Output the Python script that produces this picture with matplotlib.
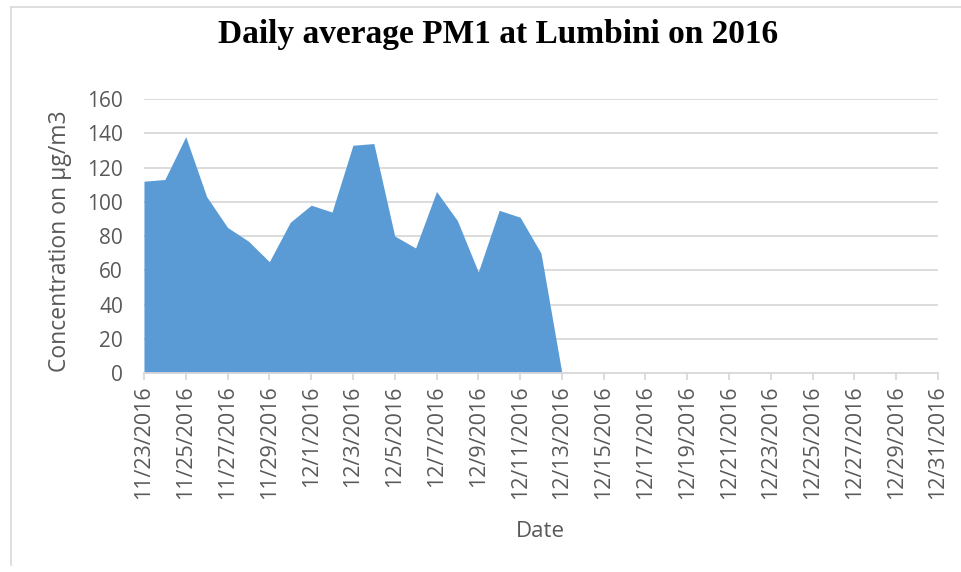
import datetime as dt
import matplotlib.pyplot as plt
from matplotlib.lines import Line2D

# daily average PM1 (µg/m3), 11/23/2016 .. 12/13/2016
start_date = dt.date(2016, 11, 23)
end_date = dt.date(2016, 12, 31)
pm1_values = [112, 113, 138, 103, 85, 77, 65, 88, 98, 94, 133, 134,
              80, 73, 106, 89, 59, 95, 91, 70, 0]

BLUE = "#5B9BD5"
GRID = "#D9D9D9"
TEXT = "#595959"


def date_label(d):
    return f"{d.month}/{d.day}/{d.year}"


def main():
    fig = plt.figure(figsize=(9.61, 5.72), dpi=100)
    ax = fig.add_axes([0.1498, 0.3479, 0.8263, 0.4790])

    days = list(range(len(pm1_values)))
    ax.fill_between(days, pm1_values, 0, color=BLUE, linewidth=0)

    n_days = (end_date - start_date).days
    tick_days = list(range(0, n_days + 1, 2))
    tick_labels = [date_label(start_date + dt.timedelta(days=d)) for d in tick_days]

    ax.set_xlim(0, n_days)
    ax.set_ylim(0, 160)
    ax.set_yticks(range(0, 161, 20))
    ax.set_xticks(tick_days)
    ax.set_xticklabels(tick_labels, rotation=90, ha="center", va="top")

    ax.grid(axis="y", color=GRID, linewidth=1.3)
    ax.set_axisbelow(True)
    for side in ["top", "right", "left"]:
        ax.spines[side].set_visible(False)
    ax.spines["bottom"].set_color(GRID)
    ax.spines["bottom"].set_linewidth(1.3)
    ax.tick_params(axis="y", length=0, pad=15, labelsize=15, labelcolor=TEXT)
    ax.tick_params(axis="x", length=5, color=GRID, width=1.3, pad=4,
                   labelsize=15.5, labelcolor=TEXT)
    for lbl in ax.get_xticklabels() + ax.get_yticklabels():
        lbl.set_family("Open Sans")

    ax.set_ylabel("Concentration on µg/m3", fontsize=16.5, color=TEXT,
                  family="Open Sans")
    ax.yaxis.set_label_coords(-0.09, 0.48)
    fig.text(0.562, 0.07, "Date", fontsize=16, color=TEXT, family="Open Sans",
             ha="center", va="center")
    fig.text(0.518, 0.94, "Daily average PM1 at Lumbini on 2016", fontsize=24,
             fontweight="bold", family="Liberation Serif", ha="center", va="center")

    # outer chart border (left and top only visible in the picture)
    fig.add_artist(Line2D([0.011, 0.011], [0.012, 0.988], transform=fig.transFigure,
                          color=GRID, linewidth=1.2))
    fig.add_artist(Line2D([0.011, 1.0], [0.988, 0.988], transform=fig.transFigure,
                          color=GRID, linewidth=1.2))

    fig.savefig("out.png", dpi=100)


if __name__ == "__main__":
    main()
